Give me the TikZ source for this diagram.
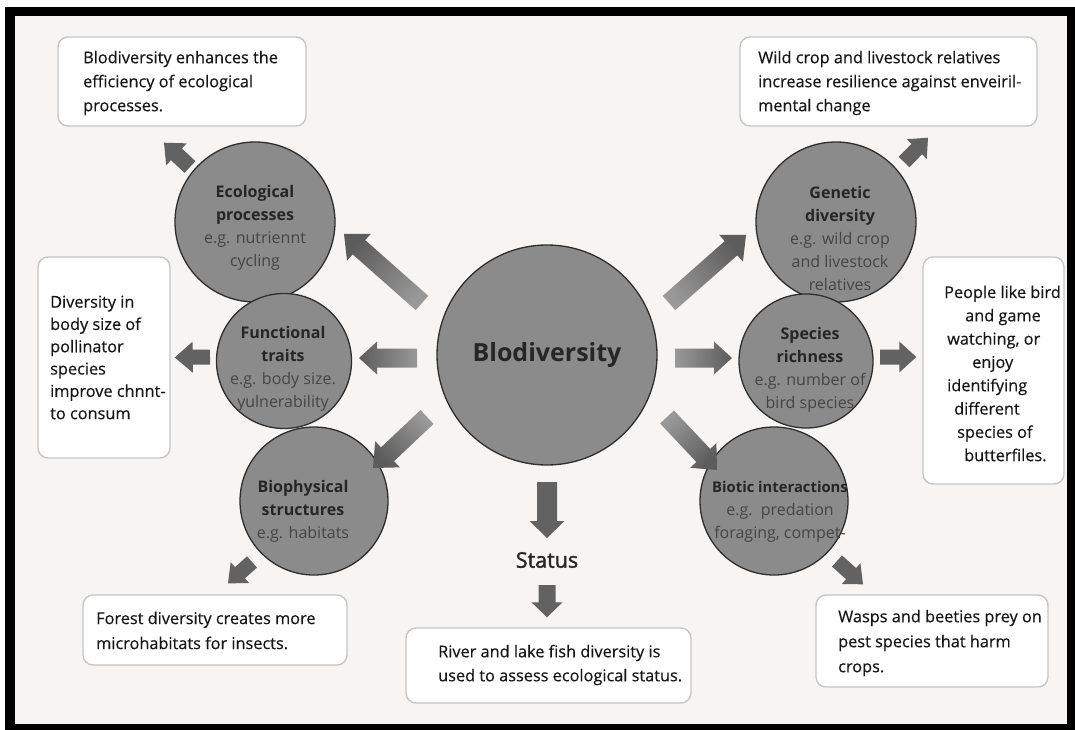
\documentclass[tikz,border=0pt]{standalone}
\usepackage{fontspec}
\setmainfont{Open Sans}
\newfontfamily\bodyf[FakeBold=0.35]{Open Sans}
\newfontfamily\statf[FakeBold=1.6]{Open Sans}
\usetikzlibrary{calc}
\definecolor{bgc}{HTML}{F6F5F3}
\definecolor{circf}{HTML}{8B8B8B}
\definecolor{circd}{HTML}{2E2E2E}
\definecolor{boxd}{HTML}{C6C6C6}
\definecolor{arrh}{HTML}{5C5C5C}
\definecolor{arrt}{HTML}{999999}
\definecolor{arru}{HTML}{626262}
\definecolor{ttl}{HTML}{262626}
\definecolor{subc}{HTML}{454545}
\definecolor{txt}{HTML}{161616}
\newcommand\ctitle[1]{\textcolor{ttl}{\bfseries #1}}
% block arrow: #1 options, #2 tail, #3 tip, #4 shaft half width, #5 head half width, #6 head length
\newcommand\blk[6]{%
  \coordinate (bkH) at ($(#3)!#6!(#2)$);
  \path[#1] ($(#2)!#4!90:(#3)$) -- ($(bkH)!#4!-90:(#2)$) -- ($(bkH)!#5!-90:(#2)$) -- (#3)
     -- ($(bkH)!#5!90:(#2)$) -- ($(bkH)!#4!90:(#2)$) -- ($(#2)!#4!-90:(#3)$) -- cycle;
}
\tikzset{
  circ/.style={circle, draw=circd, line width=1.3pt, fill=circf, inner sep=0pt},
  tbox/.style={draw=boxd, line width=1.4pt, fill=white, rounded corners=10pt, inner sep=0pt},
  btxt/.style={font=\bodyf\fontsize{16.3}{24}\selectfont, text=txt, align=left, inner sep=0pt, anchor=west},
  ctxt/.style={align=center, inner sep=0pt, text=subc, font=\fontsize{16}{23}\selectfont},
  bigarr/.style={shade, top color=arrh, bottom color=arrt},
  smallarr/.style={fill=arru},
}
\begin{document}
\begin{tikzpicture}[x=1pt,y=-1pt]
\useasboundingbox (0,0) rectangle (1075,730);
\fill[white] (0,0) rectangle (1075,730);
\fill[black] (5,7) rectangle (1075,730);
\fill[bgc] (15,16) rectangle (1067,724);

% boxes
\node[tbox, minimum width=248pt, minimum height=89pt] (box1) at (182,81.5) {};
\node[tbox, minimum width=132pt, minimum height=201pt] (box2) at (104,357.5) {};
\node[tbox, minimum width=264pt, minimum height=70pt] (box3) at (215,630) {};
\node[tbox, minimum width=285pt, minimum height=75pt] (box4) at (548.5,665.5) {};
\node[tbox, minimum width=297pt, minimum height=89pt] (box5) at (888.5,81.5) {};
\node[tbox, minimum width=141pt, minimum height=227pt] (box6) at (993.5,370.5) {};
\node[tbox, minimum width=232pt, minimum height=92pt] (box7) at (932,641) {};

\node[btxt] (box1t) at (83,83) {Blodiversity enhances the\\efficiency of ecological\\processes.};
\node[btxt, font=\bodyf\fontsize{16.3}{22.3}\selectfont] (box2t) at (50,357.5) {Diversity in\\body size of\\pollinator\\species\\improve chnnt-\\to consum};
\node[btxt, font=\bodyf\fontsize{16.3}{25}\selectfont] (box3t) at (96,630.5) {Forest diversity creates more\\microhabitats for insects.};
\node[btxt] (box4t) at (438,665) {River and lake fish diversity is\\used to assess ecological status.};
\node[btxt] (box5t) at (758,83) {Wild crop and livestock relatives\\increase resilience against enveiril-\\mental change};
\node[btxt, font=\bodyf\fontsize{16.3}{23.3}\selectfont] (box6t) at (944,373.5) {People like bird\\\hspace*{21pt}and game\\\hspace*{3pt}watching, or\\\hspace*{28pt}enjoy\\\hspace*{3pt}identifying\\\hspace*{10pt}different\\\hspace*{13pt}species of\\\hspace*{20pt}butterfiles.};
\node[btxt, font=\bodyf\fontsize{16.3}{25}\selectfont] (box7t) at (838,643) {Wasps and beeties prey on\\pest species that harm\\crops.};

% circles
\node[circ, minimum size=160pt] (eco) at (255,222) {};
\node[circ, minimum size=135pt] (func) at (284,361) {};
\node[circ, minimum size=148pt] (bio) at (314,501) {};
\node[circ, minimum size=160pt] (gen) at (836,222) {};
\node[circ, minimum size=134pt] (spe) at (806,361) {};
\node[circ, minimum size=148pt] (biot) at (774,501) {};
\node[circ, minimum size=220pt, text=ttl, font=\fontsize{25}{30}\selectfont\bfseries] (big) at (547,355) {Blodiversity};

\node[ctxt] (ecot) at (255,227.5) {\ctitle{Ecological}\\\ctitle{processes}\\e.g. nutriennt\\cycling};
\node[ctxt] (funct) at (283,369) {\ctitle{Functional}\\\ctitle{traits}\\e.g. body size.\\yulnerability};
\node[ctxt] (biot-t) at (303,511.5) {\ctitle{Biophysical}\\\ctitle{structures}\\e.g. habitats};
\node[ctxt] (gent) at (840,238.5) {\ctitle{Genetic}\\\ctitle{diversity}\\e.g. wild crop\\and livestock\\relatives};
\node[ctxt] (spet) at (810,370) {\ctitle{Species}\\\ctitle{richness}\\e.g. number of\\bird species};
\node[ctxt] (biotict) at (780,511.5) {\ctitle{\fontsize{14.8}{23}\selectfont Biotic interactions}\\e.g.\ \ predation\\foraging, compet-};

\node[text=ttl, font=\statf\fontsize{21.5}{26}\selectfont, inner sep=0pt] (status) at (547,560) {Status};

% arrow end points
\coordinate (a1t) at ($(big)+(-125,-52)$);  \coordinate (a1h) at ($(eco)+(89,12)$);
\coordinate (a2t) at ($(big)+(-130,3)$);    \coordinate (a2h) at ($(func)+(75,-3)$);
\coordinate (a3t) at ($(big)+(-120,62)$);   \coordinate (a3h) at ($(bio)+(59,-33)$);
\coordinate (a4t) at ($(big)+(0,127)$);     \coordinate (a4h) at ($(status)+(0,-22)$);
\coordinate (a5t) at ($(status)+(0,25)$);   \coordinate (a5h) at ($(box4.north)+(-1.5,-10)$);
\coordinate (a6t) at ($(big)+(122,-52)$);   \coordinate (a6h) at ($(gen)+(-90,13)$);
\coordinate (a7t) at ($(big)+(128,3)$);     \coordinate (a7h) at ($(spe)+(-74,-3)$);
\coordinate (a8t) at ($(big)+(120,62)$);    \coordinate (a8h) at ($(biot)+(-57,-31)$);
\coordinate (a9t) at ($(eco)+(-65,-55)$);   \coordinate (a9h) at ($(box1.south)+(-18,16)$);
\coordinate (a10t) at ($(func)+(-74,-4)$);  \coordinate (a10h) at ($(box2.east)+(4,0)$);
\coordinate (a11t) at ($(bio)+(-62,61)$);   \coordinate (a11h) at ($(box3.north)+(13,-11)$);
\coordinate (a12t) at ($(gen)+(68,-60)$);   \coordinate (a12h) at ($(box5.south)+(39.5,11)$);
\coordinate (a13t) at ($(spe)+(74,-4)$);    \coordinate (a13h) at ($(box6.west)+(-6,-13.5)$);
\coordinate (a14t) at ($(biot)+(63,60)$);   \coordinate (a14h) at ($(box7.north)+(-69,-10)$);

\blk{bigarr, shading angle=48.5}{a1t}{a1h}{9.5pt}{18pt}{20pt}
\blk{bigarr, shading angle=90}{a2t}{a2h}{9.5pt}{16.5pt}{18pt}
\blk{bigarr, shading angle=133.4}{a3t}{a3h}{9.5pt}{18pt}{20pt}
\blk{smallarr}{a4t}{a4h}{10pt}{17.5pt}{17pt}
\blk{smallarr}{a5t}{a5h}{8.5pt}{15.5pt}{15pt}
\blk{bigarr, shading angle=-48.6}{a6t}{a6h}{9.5pt}{18pt}{20pt}
\blk{bigarr, shading angle=-90}{a7t}{a7h}{9.5pt}{16.5pt}{18pt}
\blk{bigarr, shading angle=-136.7}{a8t}{a8h}{9.5pt}{18pt}{20pt}
\blk{smallarr}{a9t}{a9h}{8pt}{15pt}{17pt}
\blk{smallarr}{a10t}{a10h}{7.5pt}{15.5pt}{18pt}
\blk{smallarr}{a11t}{a11h}{7.5pt}{14pt}{16pt}
\blk{smallarr}{a12t}{a12h}{7.5pt}{14pt}{16pt}
\blk{smallarr}{a13t}{a13h}{7.5pt}{15.5pt}{17pt}
\blk{smallarr}{a14t}{a14h}{7.5pt}{14pt}{16pt}
\end{tikzpicture}
\end{document}
